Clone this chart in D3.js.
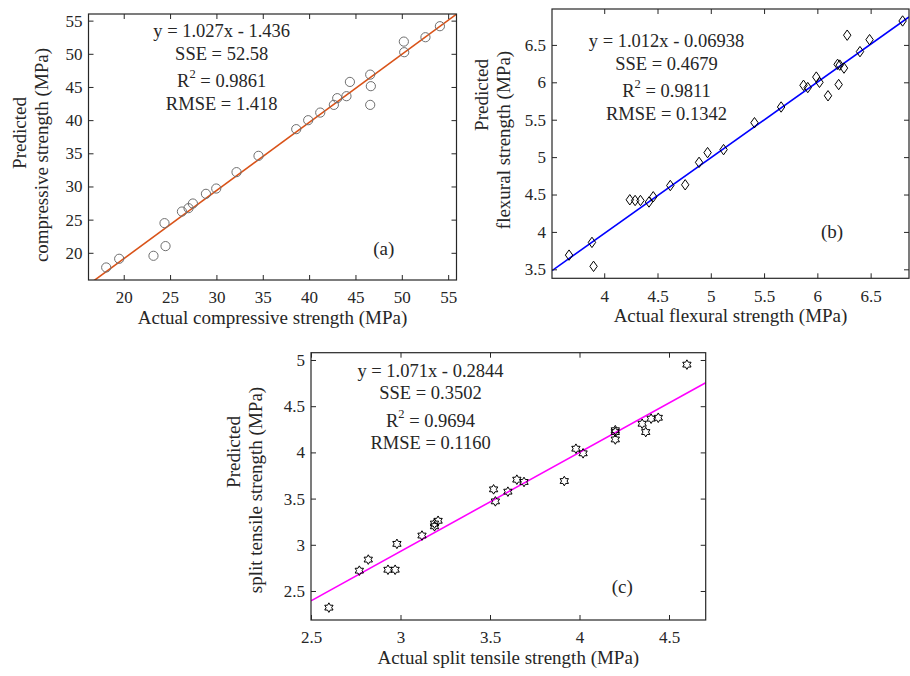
<!DOCTYPE html>
<html>
<head>
<meta charset="utf-8">
<script src="https://cdn.jsdelivr.net/npm/d3@7/dist/d3.min.js"></script>
<style>
body { margin: 0; background: #fff; }
text { font-family: "Liberation Serif", "Times New Roman", serif; fill: #262626; }
</style>
</head>
<body>
<div id="main"></div>
<script>
// (a) compressive strength
var compActual = [18.11, 19.51, 23.21, 24.40, 24.51, 26.28, 26.99, 27.46, 28.87, 29.98,
                  32.17, 34.54, 38.61, 39.90, 41.20, 42.67, 43.03, 44.03, 44.40, 46.59,
                  46.66, 46.59, 50.22, 50.26, 52.55, 54.11];
var compPredicted = [17.79, 19.10, 19.55, 24.47, 21.01, 26.22, 26.73, 27.43, 28.89, 29.69,
                     32.16, 34.62, 38.64, 39.99, 41.14, 42.30, 43.31, 43.61, 45.76, 46.86,
                     45.12, 42.30, 51.84, 50.24, 52.50, 54.16];
var compTicks = [20, 25, 30, 35, 40, 45, 50, 55];
var compDomainX = [16.2, 55.9];
var compDomainY = [15.9, 56.0];

// (b) flexural strength
var flexActual = [3.67, 3.885, 3.90, 4.24, 4.29, 4.34, 4.42, 4.46, 4.62, 4.76,
                  4.89, 4.97, 5.12, 5.41, 5.66, 5.87, 5.91, 5.99, 6.02, 6.10,
                  6.20, 6.19, 6.21, 6.25, 6.28, 6.40, 6.49, 6.80];
var flexPredicted = [3.69, 3.86, 3.54, 4.43, 4.42, 4.42, 4.40, 4.47, 4.62, 4.63,
                     4.93, 5.06, 5.10, 5.46, 5.67, 5.96, 5.93, 6.07, 6.00, 5.82,
                     5.97, 6.24, 6.23, 6.19, 6.63, 6.41, 6.57, 6.82];
var flexTicksX = [4, 4.5, 5, 5.5, 6, 6.5];
var flexTicksY = [3.5, 4, 4.5, 5, 5.5, 6, 6.5];
var flexDomainX = [3.51, 6.86];
var flexDomainY = [3.38, 6.98];

// (c) split tensile strength
var splitActual = [2.60, 2.77, 2.82, 2.93, 2.97, 2.98, 3.12, 3.19, 3.19, 3.21,
                   3.52, 3.53, 3.60, 3.65, 3.69, 3.915, 3.98, 4.02, 4.20, 4.20,
                   4.20, 4.35, 4.37, 4.40, 4.44, 4.60];
var splitPredicted = [2.32, 2.72, 2.84, 2.73, 2.73, 3.01, 3.10, 3.20, 3.23, 3.26,
                      3.60, 3.47, 3.575, 3.705, 3.68, 3.69, 4.04, 3.99, 4.24, 4.22,
                      4.14, 4.31, 4.22, 4.365, 4.375, 4.95];
var splitTicksX = [2.5, 3, 3.5, 4, 4.5];
var splitTicksY = [2.5, 3, 3.5, 4, 4.5, 5];
var splitDomainX = [2.5, 4.705];
var splitDomainY = [2.186, 5.079];

// fit lines and statistics, one entry per panel
var fitSlopes = [1.027, 1.012, 1.071];
var fitIntercepts = [-1.436, -0.06938, -0.2844];
var fitEquations = ["y = 1.027x - 1.436", "y = 1.012x - 0.06938", "y = 1.071x - 0.2844"];
var fitSSE = ["52.58", "0.4679", "0.3502"];
var fitR2 = ["0.9861", "0.9811", "0.9694"];
var fitRMSE = ["1.418", "0.1342", "0.1160"];
var panelTags = ["(a)", "(b)", "(c)"];
var xLabels = ["Actual compressive strength (MPa)", "Actual flexural strength (MPa)",
               "Actual split tensile strength (MPa)"];
var yLabels = [["Predicted", "compressive strength (MPa)"],
               ["Predicted", "flexural strength (MPa)"],
               ["Predicted", "split tensile strength (MPa)"]];

var ctx = {
    w: 910,
    h: 676,
    FRAME: "#262626",
    tickLen: 5,
    // ylab: [x of line 1, x of line 2], ylabY: vertical centre of each line
    boxes: [
        {left: 88.5, right: 456.5, top: 14, bottom: 280,
         stats: [221.7, 37], tag: [383.7, 255], ylab: [26, 48], ylabY: [133, 155]},
        {left: 552, right: 909, top: 9, bottom: 278.3,
         stats: [666.5, 47], tag: [832, 238], ylab: [488, 510], ylabY: [95, 140]},
        {left: 311, right: 705.7, top: 352.7, bottom: 620,
         stats: [430.5, 376.7], tag: [622.3, 593], ylab: [240, 262], ylabY: [452, 490]}
    ],
    lineColors: ["#D95319", "#0000FF", "#FF00FF"]
};

var hexagram = function(r){
    var pts = [];
    for (var k = 0; k < 12; k++){
        var a = (-90 + k*30) * Math.PI/180;
        var rr = (k % 2 == 0) ? r : r/Math.sqrt(3);
        pts.push([rr*Math.cos(a), rr*Math.sin(a)]);
    }
    return "M" + pts.map(p => p[0].toFixed(2)+","+p[1].toFixed(2)).join("L") + "Z";
};

var markers = [
    function(g){ g.append("circle").attr("r", 4.6).attr("fill", "none")
                  .attr("stroke", "#6f6f6f").attr("stroke-width", 1); },
    function(g){ g.append("path").attr("d", "M0,-5.2L3.7,0L0,5.2L-3.7,0Z").attr("fill", "none")
                  .attr("stroke", "#000").attr("stroke-width", 1); },
    function(g){ g.append("path").attr("d", hexagram(4.8)).attr("fill", "none")
                  .attr("stroke", "#000").attr("stroke-width", 1); }
];

var drawPanel = function(svgEl, i, xs, ys, domX, domY, ticksX, ticksY){
    var b = ctx.boxes[i];
    var x = d3.scaleLinear().domain(domX).range([b.left, b.right]);
    var y = d3.scaleLinear().domain(domY).range([b.bottom, b.top]);
    var g = svgEl.append("g");

    g.append("clipPath").attr("id", "clip"+i).append("rect")
     .attr("x", b.left).attr("y", b.top)
     .attr("width", b.right-b.left).attr("height", b.bottom-b.top);

    // fit line
    g.append("line")
     .attr("clip-path", "url(#clip"+i+")")
     .attr("x1", x(domX[0])).attr("y1", y(fitSlopes[i]*domX[0] + fitIntercepts[i]))
     .attr("x2", x(domX[1])).attr("y2", y(fitSlopes[i]*domX[1] + fitIntercepts[i]))
     .attr("stroke", ctx.lineColors[i]).attr("stroke-width", 1.6);

    // points
    xs.forEach(function(d, j){
        var m = g.append("g").attr("transform", "translate("+x(d)+","+y(ys[j])+")");
        markers[i](m);
    });

    // axes, ticks inward on all four sides
    var fmt = d3.format("");
    var axB = g.append("g").attr("transform", "translate(0,"+b.bottom+")")
        .call(d3.axisBottom(x).tickValues(ticksX).tickSize(-ctx.tickLen).tickPadding(8).tickFormat(fmt));
    var axT = g.append("g").attr("transform", "translate(0,"+b.top+")")
        .call(d3.axisTop(x).tickValues(ticksX).tickSize(-ctx.tickLen).tickFormat(""));
    var axL = g.append("g").attr("transform", "translate("+b.left+",0)")
        .call(d3.axisLeft(y).tickValues(ticksY).tickSize(-ctx.tickLen).tickPadding(6).tickFormat(fmt));
    var axR = g.append("g").attr("transform", "translate("+b.right+",0)")
        .call(d3.axisRight(y).tickValues(ticksY).tickSize(-ctx.tickLen).tickFormat(""));
    [axB, axT, axL, axR].forEach(function(a){
        a.select(".domain").remove();
        a.selectAll("line").attr("stroke", ctx.FRAME);
        a.selectAll("text").attr("font-size", 17).attr("font-family", null).attr("fill", "#262626");
    });
    axB.selectAll("text").attr("dy", "0.9em");

    g.append("rect")
     .attr("x", b.left).attr("y", b.top)
     .attr("width", b.right-b.left).attr("height", b.bottom-b.top)
     .attr("fill", "none").attr("stroke", ctx.FRAME).attr("stroke-width", 1.2);

    // statistics text
    var st = g.append("g").attr("font-size", 18.5).attr("text-anchor", "middle");
    st.append("text").attr("x", b.stats[0]).attr("y", b.stats[1]).text(fitEquations[i]);
    st.append("text").attr("x", b.stats[0]).attr("y", b.stats[1]+22.5).text("SSE = " + fitSSE[i]);
    var r2 = st.append("text").attr("x", b.stats[0]).attr("y", b.stats[1]+50);
    r2.append("tspan").text("R");
    r2.append("tspan").attr("dy", -9).attr("font-size", 12.5).text("2");
    r2.append("tspan").attr("dy", 9).text(" = " + fitR2[i]);
    st.append("text").attr("x", b.stats[0]).attr("y", b.stats[1]+72.5).text("RMSE = " + fitRMSE[i]);

    g.append("text").attr("x", b.tag[0]).attr("y", b.tag[1])
     .attr("font-size", 19).attr("text-anchor", "middle").text(panelTags[i]);

    // axis labels
    g.append("text").attr("x", (b.left+b.right)/2).attr("y", b.bottom+44)
     .attr("font-size", 19).attr("text-anchor", "middle").text(xLabels[i]);
    yLabels[i].forEach(function(t, k){
        g.append("text")
         .attr("transform", "translate("+b.ylab[k]+","+b.ylabY[k]+") rotate(-90)")
         .attr("font-size", 19).attr("text-anchor", "middle").text(t);
    });
};

var createViz = function(){
    var svgEl = d3.select("#main").append("svg")
        .attr("width", ctx.w).attr("height", ctx.h);
    drawPanel(svgEl, 0, compActual, compPredicted, compDomainX, compDomainY, compTicks, compTicks);
    drawPanel(svgEl, 1, flexActual, flexPredicted, flexDomainX, flexDomainY, flexTicksX, flexTicksY);
    drawPanel(svgEl, 2, splitActual, splitPredicted, splitDomainX, splitDomainY, splitTicksX, splitTicksY);
};

createViz();
</script>
</body>
</html>
